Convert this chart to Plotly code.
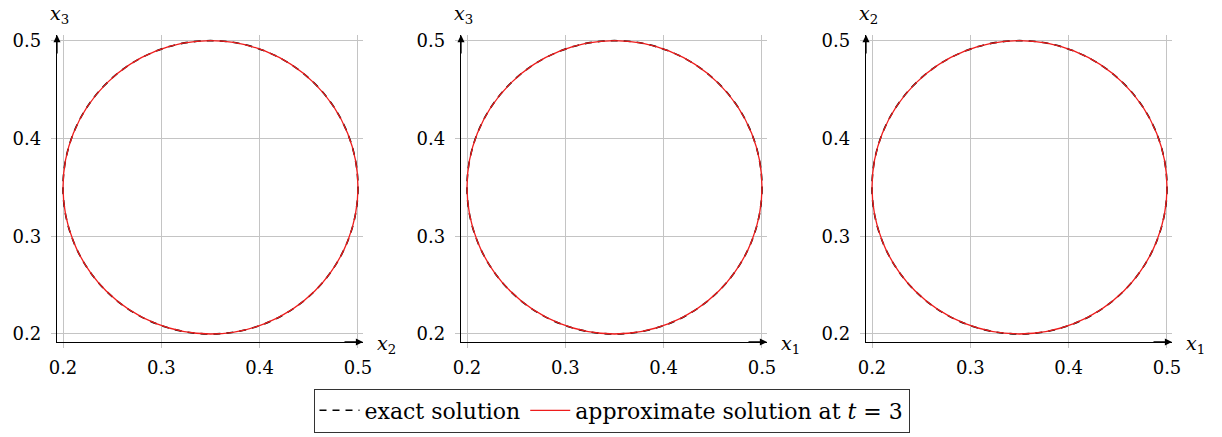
import plotly.graph_objects as go

# ---- data ----
panel_h_labels = ["x<sub>2</sub>", "x<sub>1</sub>", "x<sub>1</sub>"]
panel_v_labels = ["x<sub>3</sub>", "x<sub>3</sub>", "x<sub>2</sub>"]
exact_center_h = [0.35, 0.35, 0.35]
exact_center_v = [0.35, 0.35, 0.35]
exact_radius = [0.15, 0.15, 0.15]
approx_center_h = [0.35, 0.35, 0.35]
approx_center_v = [0.35, 0.35, 0.35]
approx_radius = [0.15, 0.15, 0.15]
tick_vals = [0.2, 0.3, 0.4, 0.5]
tick_text = ["0.2", "0.3", "0.4", "0.5"]
x_range = [0.1939, 0.5051]
y_range = [0.1918, 0.5058]

W, H = 1222, 437
FONT = "DejaVu Serif"
GRID = "#c4c4c4"

panel_left_px = [57, 461, 866]
panel_right_px = [363, 767, 1172]
top_px, bottom_px = 35, 342

fig = go.Figure()

shapes = []
annotations = []
for i in range(3):
    n = "" if i == 0 else str(i + 1)
    xa = "xaxis" + n
    ya = "yaxis" + n
    xr = "x" + n
    yr = "y" + n
    fig.update_layout(**{
        xa: dict(
            domain=[panel_left_px[i] / W, panel_right_px[i] / W],
            range=x_range, anchor=yr, automargin=False,
            tickvals=tick_vals, ticktext=tick_text,
            showgrid=True, gridcolor=GRID, gridwidth=1,
            ticks="outside", ticklen=5, tickcolor=GRID, tickwidth=1,
            showline=True, linecolor="black", linewidth=1.3,
            zeroline=False, ticklabelstandoff=4,
            tickfont=dict(family=FONT, size=18, color="black"),
        ),
        ya: dict(
            domain=[1 - bottom_px / H, 1 - top_px / H],
            range=y_range, anchor=xr, automargin=False,
            tickvals=tick_vals, ticktext=tick_text,
            showgrid=True, gridcolor=GRID, gridwidth=1,
            ticks="outside", ticklen=5, tickcolor=GRID, tickwidth=1,
            showline=True, linecolor="black", linewidth=1.3,
            zeroline=False, ticklabelstandoff=6,
            tickfont=dict(family=FONT, size=18, color="black"),
        ),
    })
    shapes.append(dict(
        type="circle", xref=xr, yref=yr,
        x0=exact_center_h[i] - exact_radius[i], x1=exact_center_h[i] + exact_radius[i],
        y0=exact_center_v[i] - exact_radius[i], y1=exact_center_v[i] + exact_radius[i],
        line=dict(color="black", width=1.6, dash="7px,6px"),
    ))
    shapes.append(dict(
        type="circle", xref=xr, yref=yr,
        x0=approx_center_h[i] - approx_radius[i], x1=approx_center_h[i] + approx_radius[i],
        y0=approx_center_v[i] - approx_radius[i], y1=approx_center_v[i] + approx_radius[i],
        line=dict(color="#ee1c1c", width=1.3),
    ))
    annotations.append(dict(
        xref=xr + " domain", yref=yr + " domain", x=1, y=0, ax=-20, ay=0,
        text="", showarrow=True, arrowhead=2, arrowsize=1.1, arrowwidth=1.3,
        arrowcolor="black", standoff=0,
    ))
    annotations.append(dict(
        xref=xr + " domain", yref=yr + " domain", x=0, y=1, ax=0, ay=20,
        text="", showarrow=True, arrowhead=2, arrowsize=1.1, arrowwidth=1.3,
        arrowcolor="black", standoff=0,
    ))
    annotations.append(dict(
        xref=xr + " domain", yref=yr + " domain", x=1, y=0,
        xanchor="left", yanchor="middle", xshift=12, yshift=-2,
        text="<i>" + panel_h_labels[i].replace("<sub>", "</i><sub>"),
        showarrow=False, font=dict(family=FONT, size=19, color="black"),
    ))
    annotations.append(dict(
        xref=xr + " domain", yref=yr + " domain", x=0, y=1,
        xanchor="center", yanchor="bottom", xshift=2, yshift=6,
        text="<i>" + panel_v_labels[i].replace("<sub>", "</i><sub>"),
        showarrow=False, font=dict(family=FONT, size=19, color="black"),
    ))

fig.add_trace(go.Scatter(x=[None], y=[None], mode="lines", name="exact solution",
                         line=dict(color="black", width=1.6, dash="7px,6px")))
fig.add_trace(go.Scatter(x=[None], y=[None], mode="lines",
                         name="approximate solution at <i>t</i> = 3",
                         line=dict(color="#ee1c1c", width=1.3)))

fig.update_layout(
    template="none",
    width=W, height=H,
    margin=dict(l=0, r=0, t=0, b=0, pad=0, autoexpand=False),
    paper_bgcolor="white", plot_bgcolor="white",
    font=dict(family=FONT, color="black"),
    shapes=shapes, annotations=annotations,
    showlegend=True,
    legend=dict(
        orientation="h", x=611.5 / W, xanchor="center",
        y=1 - 410.5 / H, yanchor="middle",
        bordercolor="#333333", borderwidth=1,
        font=dict(family=FONT, size=22, color="black"),
        itemwidth=40, tracegroupgap=0,
    ),
)

fig.write_html("out.html", config={"displayModeBar": False},
               post_script="document.body.style.margin='0px';")
